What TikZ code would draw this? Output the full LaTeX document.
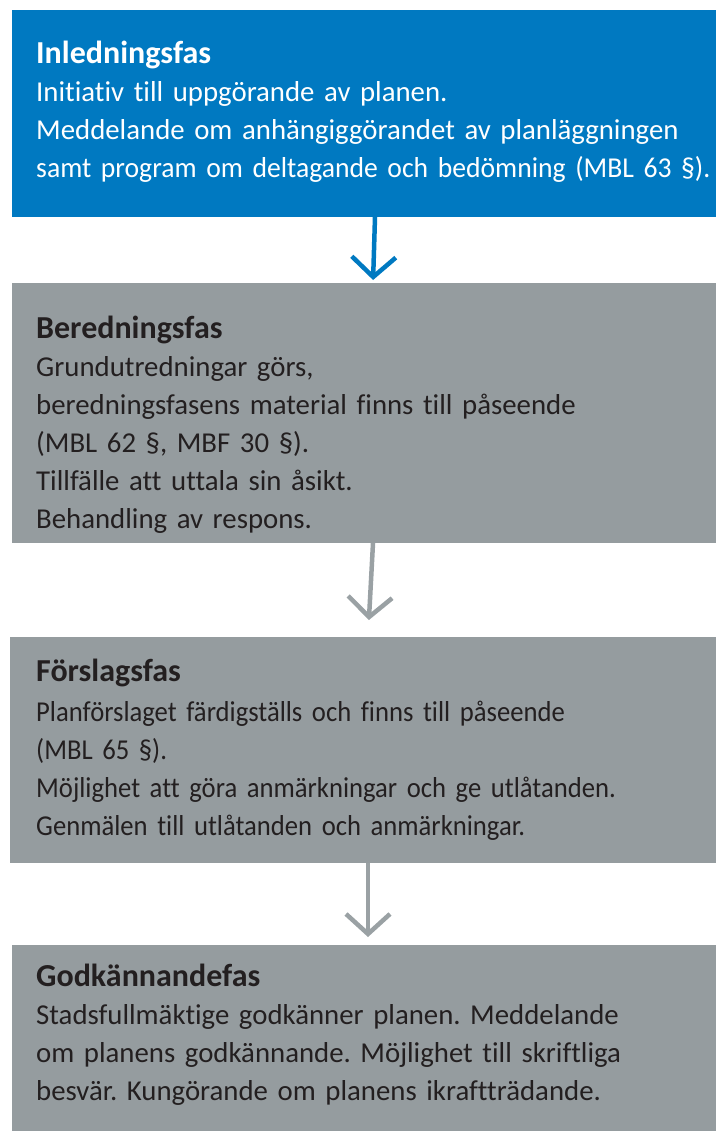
\documentclass[tikz,border=0pt]{standalone}
\usepackage{fontspec}
\setmainfont{Carlito}[Ligatures=NoCommon]
\newfontfamily\smalfont{Carlito}[Ligatures=NoCommon,FakeStretch=0.925]
\newfontfamily\tatfont{Carlito}[Ligatures=NoCommon,FakeStretch=0.96]
\usetikzlibrary{positioning,arrows.meta}
\definecolor{fasblue}{HTML}{0079C1}
\definecolor{fasgray}{HTML}{959C9F}
\definecolor{pilgray}{HTML}{9AA1A4}
\definecolor{fastext}{HTML}{231F20}
\newcommand{\fasrubrik}[1]{{\fontsize{32}{38}\selectfont\bfseries #1}}

\begin{document}
\begin{tikzpicture}[
x=1pt,y=-1pt,
box/.style={
  anchor=north west,
  inner sep=0pt,
  outer sep=0pt
},
txt/.style={
  anchor=base west,
  inner sep=0pt,
  text width=690pt,
  align=left,
  font=\fontsize{28.8}{38}\selectfont\frenchspacing
},
pil/.style={
  line width=4.5pt,
  -{Straight Barb[length=20pt,width=44pt]}
}
]
\useasboundingbox (0,0) rectangle (715,1131);

% the four phases
\node[box,fill=fasblue,minimum width=726pt,minimum height=207pt] at (12,10)
  (inl) {};
\node[box,fill=fasgray,minimum width=722pt,minimum height=260pt] at (12,283)
  (ber) {};
\node[box,fill=fasgray,minimum width=716pt,minimum height=226pt] at (10,637)
  (fors) {};
\node[box,fill=fasgray,minimum width=712pt,minimum height=200pt] at (12,945)
  (godk) {};

\node[txt,text=white] at ([xshift=24pt,yshift=-54pt]inl.north west)
  (inltxt) {\fasrubrik{Inledningsfas}\\
  Initiativ till uppgörande av planen.\\
  Meddelande om anhängiggörandet av planläggningen\\
  {\tatfont samt program om deltagande och bedömning (MBL 63 §).}};
\node[txt,text=fastext] at ([xshift=24pt,yshift=-55pt]ber.north west)
  (bertxt) {\fasrubrik{Beredningsfas}\\
  Grundutredningar görs,\\
  beredningsfasens material finns till påseende\\
  (MBL 62 §, MBF 30 §).\\
  Tillfälle att uttala sin åsikt.\\
  Behandling av respons.};
\node[txt,text=fastext] at ([xshift=26pt,yshift=-44pt]fors.north west)
  (forstxt) {\fasrubrik{Förslagsfas}\\[2pt]
  {\smalfont Planförslaget färdigställs och finns till påseende}\\
  {\smalfont (MBL 65 §).}\\
  {\smalfont Möjlighet att göra anmärkningar och ge utlåtanden.}\\
  {\smalfont Genmälen till utlåtanden och anmärkningar.}};
\node[txt,text=fastext] at ([xshift=24pt,yshift=-41pt]godk.north west)
  (godktxt) {\fasrubrik{Godkännandefas}\\
  Stadsfullmäktige godkänner planen. Meddelande\\
  om planens godkännande. Möjlighet till skriftliga\\
  besvär. Kungörande om planens ikraftträdande.};

% arrows between phases
\draw[pil,fasblue,shorten >=3pt] (inl.south) -- (ber.north);
\draw[pil,pilgray,shorten >=17pt] (ber.south) -- (fors.north);
\draw[pil,pilgray,shorten >=8pt] (fors.south) -- (godk.north);
\end{tikzpicture}
\end{document}
